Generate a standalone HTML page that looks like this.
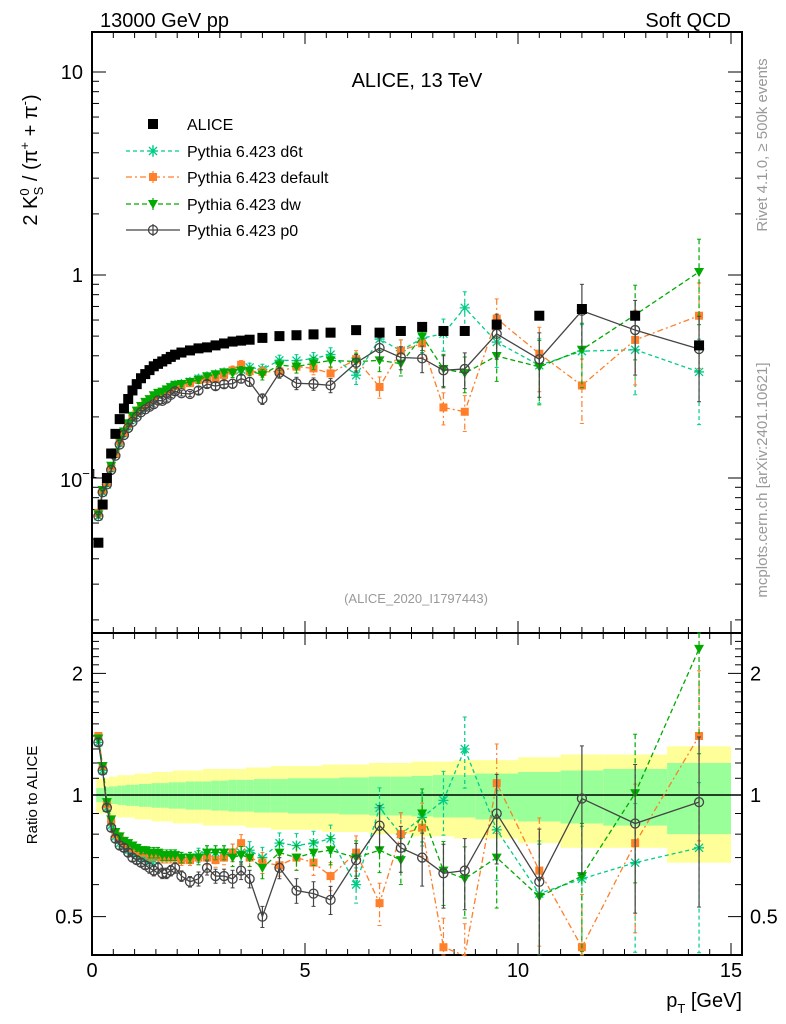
<!DOCTYPE html>
<html><head><meta charset="utf-8"><style>
html,body{margin:0;padding:0;background:#fff;}
svg{display:block;font-family:"Liberation Sans",sans-serif;}
</style></head><body>
<svg id="chart" width="786" height="1024" viewBox="0 0 786 1024" xmlns="http://www.w3.org/2000/svg">
<g id="bands"></g>
<g id="grid"></g>
<g id="series"></g>
<text x="100" y="27" font-size="20">13000 GeV pp</text>
<text x="731" y="27" font-size="20" text-anchor="end">Soft QCD</text>
<text x="417" y="87" font-size="20" text-anchor="middle">ALICE, 13 TeV</text>
<text x="416" y="603" font-size="13" fill="#999" text-anchor="middle">(ALICE_2020_I1797443)</text>
<text transform="translate(767,145) rotate(-90)" font-size="15" fill="#999" text-anchor="middle">Rivet 4.1.0, ≥ 500k events</text>
<text transform="translate(767,480) rotate(-90)" font-size="15" fill="#999" text-anchor="middle">mcplots.cern.ch [arXiv:2401.10621]</text>
<text transform="translate(37,160) rotate(-90)" font-size="20" text-anchor="middle">2 K<tspan font-size="13" dy="-8">0</tspan><tspan font-size="13" dx="-7" dy="14">S</tspan><tspan dy="-6"> / (π</tspan><tspan font-size="13" dy="-8">+</tspan><tspan dy="8"> + π</tspan><tspan font-size="13" dy="-8">-</tspan><tspan dy="8">)</tspan></text>
<text transform="translate(37,795) rotate(-90)" font-size="15" text-anchor="middle">Ratio to ALICE</text>
<text x="742" y="1007" font-size="20" text-anchor="end">p<tspan font-size="13" dy="6">T</tspan><tspan dy="-6"> [GeV]</tspan></text>
<g id="legend"></g>
</svg>
<script>
const pt=[0.15,0.25,0.35,0.45,0.55,0.65,0.75,0.85,0.95,1.05,1.15,1.25,1.35,1.45,1.55,1.65,1.75,1.85,1.95,2.1,2.3,2.5,2.7,2.9,3.1,3.3,3.5,3.7,4.0,4.4,4.8,5.2,5.6,6.2,6.75,7.25,7.75,8.25,8.75,9.5,10.5,11.5,12.75,14.25];
const binEdges=[0.1,0.2,0.3,0.4,0.5,0.6,0.7,0.8,0.9,1.0,1.1,1.2,1.3,1.4,1.5,1.6,1.7,1.8,1.9,2.0,2.2,2.4,2.6,2.8,3.0,3.2,3.4,3.6,3.8,4.2,4.6,5.0,5.4,5.8,6.5,7.0,7.5,8.0,8.5,9.0,10.0,11.0,12.0,13.5,15.0];
const alice=[0.048,0.074,0.10,0.132,0.165,0.195,0.22,0.245,0.27,0.29,0.31,0.325,0.34,0.355,0.365,0.375,0.385,0.395,0.405,0.415,0.425,0.435,0.44,0.45,0.46,0.47,0.475,0.48,0.49,0.50,0.505,0.51,0.52,0.535,0.52,0.53,0.555,0.53,0.53,0.57,0.63,0.68,0.63,0.45];
const statErr=[0.04,0.04,0.045,0.05,0.05,0.055,0.055,0.06,0.06,0.06,0.065,0.065,0.065,0.07,0.07,0.07,0.07,0.075,0.075,0.075,0.08,0.08,0.08,0.085,0.085,0.09,0.09,0.09,0.095,0.095,0.1,0.1,0.1,0.105,0.11,0.11,0.115,0.12,0.12,0.13,0.14,0.15,0.16,0.2];
const totErr=[0.1,0.1,0.1,0.11,0.11,0.12,0.12,0.12,0.12,0.13,0.13,0.13,0.13,0.14,0.14,0.14,0.14,0.14,0.15,0.15,0.15,0.15,0.16,0.16,0.16,0.16,0.16,0.17,0.17,0.18,0.18,0.18,0.19,0.19,0.2,0.2,0.21,0.21,0.22,0.22,0.24,0.26,0.26,0.32];
const rD6t=[1.35,1.15,0.93,0.84,0.79,0.76,0.75,0.73,0.72,0.71,0.70,0.70,0.69,0.69,0.70,0.70,0.70,0.71,0.71,0.70,0.70,0.71,0.72,0.72,0.72,0.72,0.72,0.73,0.70,0.76,0.75,0.76,0.78,0.60,0.93,0.80,0.88,0.97,1.30,0.82,0.57,0.62,0.68,0.74];
const rDefault=[1.40,1.18,0.95,0.86,0.80,0.78,0.76,0.75,0.74,0.73,0.72,0.72,0.71,0.71,0.71,0.70,0.70,0.70,0.70,0.69,0.69,0.70,0.70,0.69,0.70,0.72,0.76,0.70,0.68,0.67,0.70,0.68,0.63,0.72,0.54,0.80,0.83,0.42,0.40,1.07,0.65,0.42,0.76,1.40];
const rDw=[1.38,1.18,0.96,0.87,0.81,0.79,0.77,0.76,0.75,0.74,0.73,0.73,0.72,0.72,0.72,0.71,0.71,0.71,0.71,0.70,0.70,0.70,0.72,0.72,0.72,0.70,0.71,0.70,0.66,0.72,0.70,0.72,0.73,0.70,0.73,0.69,0.90,0.65,0.62,0.70,0.56,0.63,1.01,2.3];
const rP0=[1.35,1.15,0.93,0.83,0.78,0.75,0.74,0.72,0.70,0.69,0.68,0.67,0.66,0.65,0.66,0.64,0.64,0.65,0.66,0.63,0.61,0.62,0.66,0.63,0.63,0.62,0.65,0.62,0.50,0.66,0.58,0.57,0.55,0.69,0.84,0.74,0.70,0.64,0.65,0.90,0.61,0.98,0.85,0.96];
const mcErr=[0.02,0.02,0.02,0.02,0.02,0.02,0.02,0.02,0.02,0.02,0.02,0.02,0.03,0.03,0.03,0.03,0.03,0.03,0.03,0.03,0.03,0.04,0.04,0.04,0.04,0.05,0.05,0.05,0.06,0.06,0.07,0.07,0.08,0.1,0.12,0.13,0.15,0.18,0.2,0.25,0.35,0.35,0.4,0.45];
const xTicks=[0,5,10,15];
const mainTicks=[{v:10,l:"10"},{v:1,l:"1"}];
const ratioTicks=[{v:2,l:"2"},{v:1,l:"1"},{v:0.5,l:"0.5"}];

const NS="http://www.w3.org/2000/svg";
const L=92,R=742,T=32,MB=633,RB=955;
const X=v=>L+v*42.6;
const Y=v=>275-Math.log10(v)*203;
const YR=v=>795-Math.log10(v)*404;
function mk(tag,attrs,parent){const e=document.createElementNS(NS,tag);for(const k in attrs)e.setAttribute(k,attrs[k]);parent.appendChild(e);return e;}
const grid=document.getElementById('grid'),bands=document.getElementById('bands'),ser=document.getElementById('series'),leg=document.getElementById('legend');

// bands
for(let i=0;i<pt.length;i++){
  const x0=X(binEdges[i]),x1=X(binEdges[i+1]);
  const y=mk('rect',{x:x0,y:YR(1+totErr[i]),width:x1-x0,height:YR(1-totErr[i])-YR(1+totErr[i]),fill:'#ffff99'},bands);
  
  
  const g=mk('rect',{x:x0,y:YR(1+statErr[i]),width:x1-x0,height:YR(1-statErr[i])-YR(1+statErr[i]),fill:'#99ff99'},bands);
  
  
}
mk('line',{x1:L,x2:R,y1:YR(1),y2:YR(1),stroke:'#000','stroke-width':1.5},grid);
// frames
mk('rect',{x:L,y:T,width:R-L,height:MB-T,fill:'none',stroke:'#000','stroke-width':2},grid);
mk('rect',{x:L,y:MB,width:R-L,height:RB-MB,fill:'none',stroke:'#000','stroke-width':2},grid);
// x ticks
for(let v=0;v<=15.2;v+=0.5){
  const big=Math.abs(v-Math.round(v/5)*5)<1e-6, len=big?12:6;
  for(const [a,b] of [[T,1],[MB,-1],[MB,1],[RB,-1]]) mk('line',{x1:X(v),x2:X(v),y1:a,y2:a+b*len,stroke:'#000','stroke-width':1},grid);
}
xTicks.forEach(v=>{const t=mk('text',{x:X(v),y:977,'font-size':20,'text-anchor':'middle'},grid);t.textContent=v;

});
// main y log ticks
for(let d=-2;d<=1;d++)for(let m=1;m<10;m++){const v=m*Math.pow(10,d),y=Y(v);if(y<T||y>MB)continue;const len=m==1?14:7;
mk('line',{x1:L,x2:L+len,y1:y,y2:y,stroke:'#000'},grid);mk('line',{x1:R,x2:R-len,y1:y,y2:y,stroke:'#000'},grid);}
mainTicks.forEach(o=>{const t=mk('text',{x:83,y:Y(o.v)+7,'font-size':20,'text-anchor':'end'},grid);t.textContent=o.l;

});
{const t=mk('text',{x:60,y:Y(0.1)+9,'font-size':20},grid);t.innerHTML='10<tspan font-size="13" dy="-9">−1</tspan>';

}
// ratio ticks
for(let v=0.4;v<=2.5;v+=0.1){const y=YR(v);if(y<MB||y>RB)continue;const big=[0.5,1,2].some(q=>Math.abs(q-v)<1e-6);const len=big?14:7;
mk('line',{x1:L,x2:L+len,y1:y,y2:y,stroke:'#000'},grid);mk('line',{x1:R,x2:R-len,y1:y,y2:y,stroke:'#000'},grid);}
ratioTicks.forEach(o=>{const a=mk('text',{x:83,y:YR(o.v)+7,'font-size':20,'text-anchor':'end'},grid);a.textContent=o.l;


const b=mk('text',{x:750,y:YR(o.v)+7,'font-size':20},grid);b.textContent=o.l;

});

function marker(kind,x,y,col,p){
  if(kind=='sq') return mk('rect',{x:x-5,y:y-5,width:10,height:10,fill:col},p);
  if(kind=='osq') return mk('rect',{x:x-4,y:y-4,width:8,height:8,fill:col},p);
  if(kind=='tri') return mk('path',{d:`M${x-5},${y-4}L${x+5},${y-4}L${x},${y+5}Z`,fill:col},p);
  if(kind=='circ') return mk('circle',{cx:x,cy:y,r:4.5,fill:'none',stroke:col,'stroke-width':1.3},p);
  if(kind=='star') return mk('path',{d:`M${x-5},${y}H${x+5}M${x},${y-5}V${y+5}M${x-4},${y-4}L${x+4},${y+4}M${x-4},${y+4}L${x+4},${y-4}`,stroke:col,'stroke-width':1.3},p);
}
const mcs=[
 {name:'Pythia 6.423 d6t',r:rD6t,col:'#00cc88',dash:'4,3',m:'star'},
 {name:'Pythia 6.423 default',r:rDefault,col:'#ff7f2a',dash:'6,3,2,3',m:'osq'},
 {name:'Pythia 6.423 dw',r:rDw,col:'#00aa00',dash:'5,3',m:'tri'},
 {name:'Pythia 6.423 p0',r:rP0,col:'#444444',dash:'',m:'circ'}
];
mcs.forEach((s,si)=>{
  const g=mk('g',{},ser);
  
  
  for(const panel of [0,1]){
    const pts=pt.map((p,i)=>{const val=panel?s.r[i]:s.r[i]*alice[i];const yf=panel?YR:Y;return [X(p),yf(val),yf(val*(1+mcErr[i])),yf(Math.max(val*(1-mcErr[i]),1e-3))];});
    const clipTop=panel?MB:T,clipBot=panel?RB:MB;
    const line=mk('polyline',{points:pts.map(q=>q[0]+','+q[1]).join(' '),fill:'none',stroke:s.col,'stroke-width':1.3,'stroke-dasharray':s.dash},g);
    pts.forEach(q=>{
      const e1=Math.max(q[2],clipTop),e2=Math.min(q[3],clipBot);
      mk('line',{x1:q[0],x2:q[0],y1:e1,y2:e2,stroke:s.col,'stroke-width':1.2,'stroke-dasharray':s.dash},g);
      mk('line',{x1:q[0]-2,x2:q[0]+2,y1:e1,y2:e1,stroke:s.col},g);mk('line',{x1:q[0]-2,x2:q[0]+2,y1:e2,y2:e2,stroke:s.col},g);
      if(q[1]>=clipTop&&q[1]<=clipBot){const mm=marker(s.m,q[0],q[1],s.col,g);
      
      }
    });
  }
});
// ALICE data
pt.forEach((p,i)=>{const m=marker('sq',X(p),Y(alice[i]),'#000',ser);

});
// legend
const legY=[124,151,177,204,230];
const la=marker('sq',153,legY[0],'#000',leg);
{const t=mk('text',{x:187,y:legY[0]+6,'font-size':16},leg);t.textContent='ALICE';

}
mcs.forEach((s,i)=>{const y=legY[i+1];
mk('line',{x1:126,x2:180,y1:y,y2:y,stroke:s.col,'stroke-width':1.3,'stroke-dasharray':s.dash},leg);
mk('line',{x1:153,x2:153,y1:y-6,y2:y+6,stroke:s.col,'stroke-width':1.2},leg);
marker(s.m,153,y,s.col,leg);
const t=mk('text',{x:187,y:y+6,'font-size':16},leg);t.textContent=s.name;

});
</script>
</body></html>
